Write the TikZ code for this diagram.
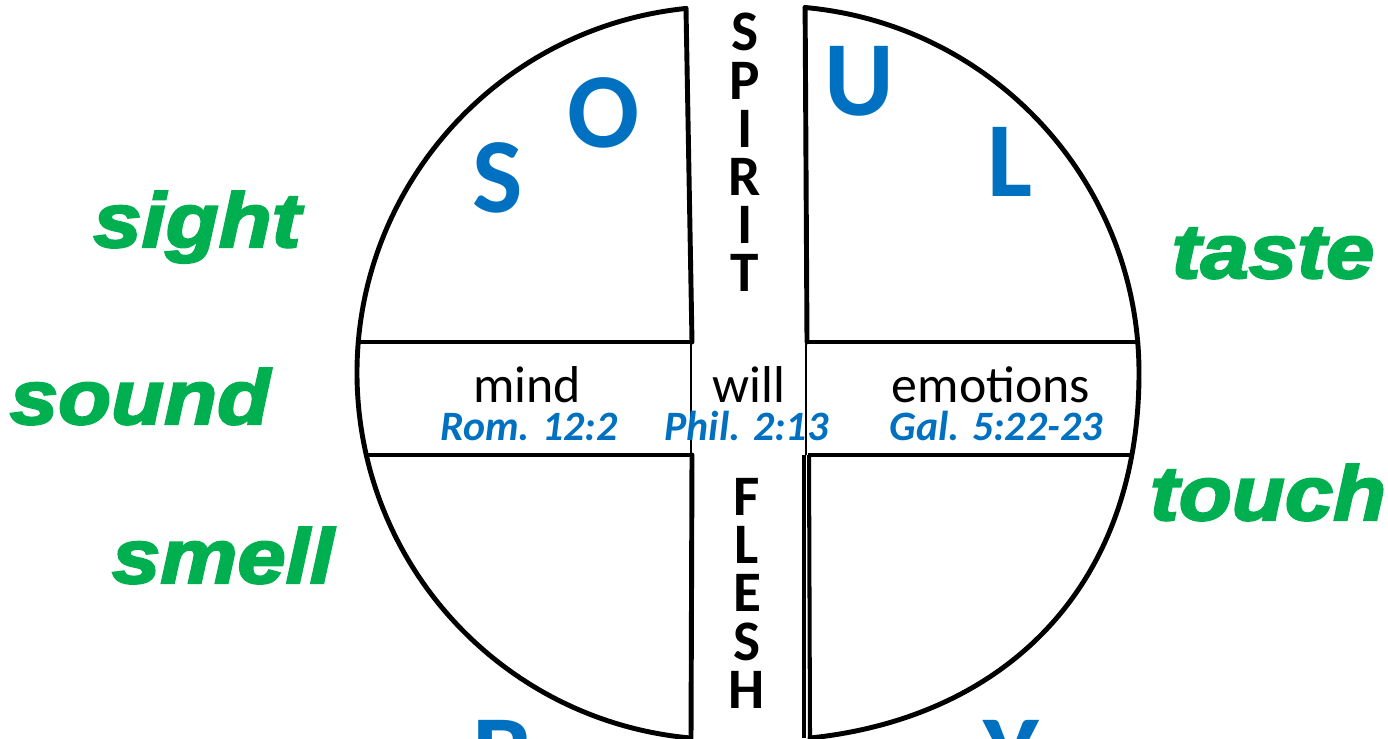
\documentclass[tikz,border=0pt]{standalone}
\usepackage{fontspec}
\newfontfamily\calfont{Carlito}
\newfontfamily\senfont[FakeBold=3,FakeStretch=1.13]{Liberation Sans Bold Italic}
\definecolor{soulblue}{HTML}{0070C0}
\definecolor{sensegreen}{HTML}{00B050}
\tikzset{
  outline/.style={line width=2.8pt, line cap=round, line join=round},
  divider/.style={line width=2.3pt},
  thinline/.style={line width=1.5pt},
  column/.style={font=\calfont\bfseries\fontsize{32.6}{27.44}\selectfont, align=center, anchor=north, inner sep=0pt},
  bigletter/.style={font=\calfont\bfseries\fontsize{60.7}{72}\selectfont, text=soulblue, anchor=base, inner sep=0pt},
  faculty/.style={font=\calfont\fontsize{29.5}{35}\selectfont, anchor=base, inner sep=0pt},
  verse/.style={font=\calfont\bfseries\itshape\fontsize{23.8}{28}\selectfont, text=soulblue, anchor=base, inner sep=0pt},
  sense/.style={font=\senfont\fontsize{43.7}{52}\selectfont, text=sensegreen, anchor=base, inner sep=0pt}
}
\begin{document}
\begin{tikzpicture}[x=0.02cm,y=0.02cm]
\useasboundingbox (0,0) rectangle (1388,738);
\coordinate (CL) at (723.5,365);
\coordinate (CR) at (772,365);
% left half
\draw[outline] (CL) ++(95.87:366.5) arc[start angle=95.87, end angle=264.76, radius=366.5];
\draw[outline] (686,729.6) -- (692,396);
\draw[outline] (692,283) -- (691,0);
% right half
\draw[outline] (CR) ++(84.83:367) arc[start angle=84.83, end angle=0, radius=367]
  .. controls (1139,150) and (1003.9,20.2) .. (810,0);
\draw[outline] (805.1,730.5) -- (807,396);
\draw[divider] (804,283) -- (804,0);
\draw[divider] (809,283) -- (810,0);
% band
\draw[divider] (358.3,396) -- (692,396);
\draw[divider] (806,396) -- (1137.7,396);
\draw[divider] (366.3,283) -- (692,283);
\draw[divider] (808,283) -- (1130,283);
\draw[thinline] (691,396) -- (691,283);
\draw[thinline] (806,396) -- (806,283);
% SPIRIT / FLESH
\node[column] (spirit) at (745,725) {S\\P\\I\\R\\I\\T};
\node[column] (flesh) at (747,260) {F\\L\\E\\S\\H};
% SOUL BODY
\node[bigletter] (lS) at (498,525) {S};
\node[bigletter] (lO) at (604,590) {O};
\node[bigletter] (lU) at (859,622) {U};
\node[bigletter] (lL) at (1010,541) {L};
\node[bigletter] (lB) at (502,-51) {B};
\node[bigletter] (lY) at (1011,-51) {Y};
% faculties
\node[faculty] (mind) at (527,336) {mind};
\node[faculty] (will) at (749,336) {will};
\node[faculty] (emo) at (991,336) {emotions};
\node[verse] (rom) at (529,298) {Rom. 12:2};
\node[verse] (phil) at (746.5,298) {Phil. 2:13};
\node[verse] (gal) at (996,298) {Gal. 5:22-23};
% senses
\node[sense] (sight) at (197,491) {sight};
\node[sense] (sound) at (140,314) {sound};
\node[sense] (smell) at (223,155) {smell};
\node[sense] (taste) at (1273,460) {taste};
\node[sense] (touch) at (1268,218) {touch};
\end{tikzpicture}
\end{document}
